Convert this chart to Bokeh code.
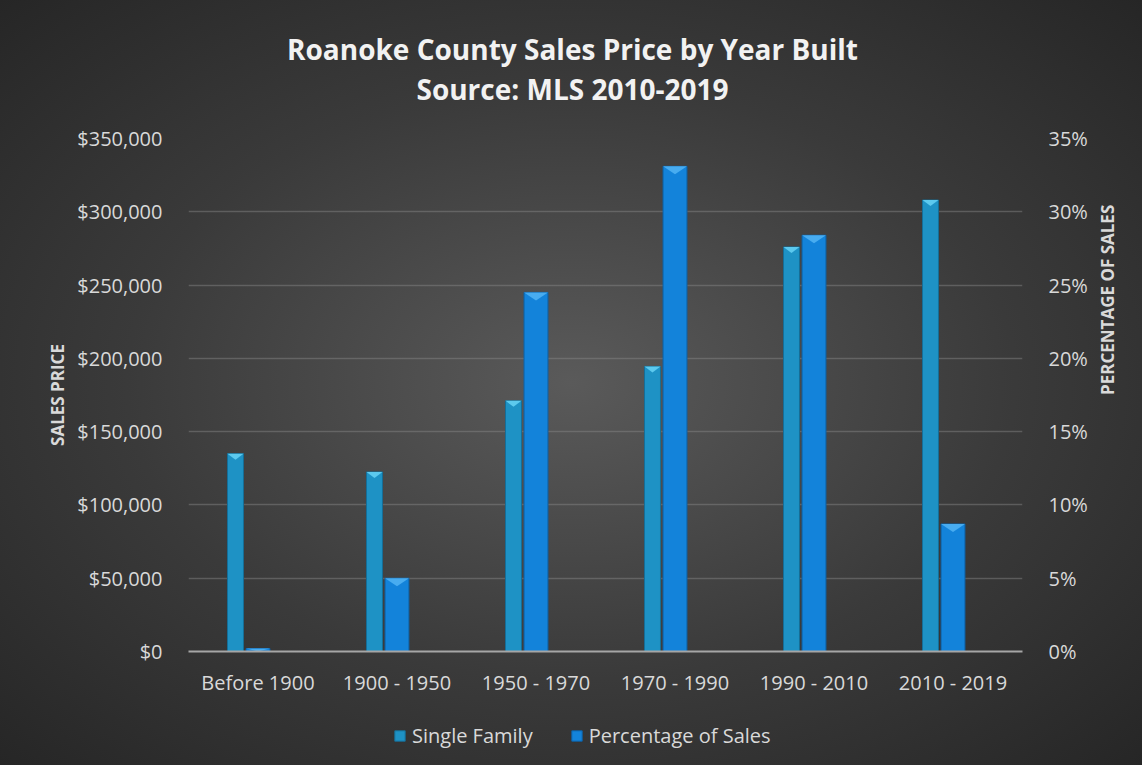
import numpy as np
from bokeh.plotting import figure
from bokeh.layouts import column
from bokeh.models import (Range1d, LinearAxis, FixedTicker, NumeralTickFormatter,
                          PrintfTickFormatter, Legend, LegendItem, ColumnDataSource)
from bokeh.core.properties import value
from bokeh.embed import file_html
from bokeh.resources import INLINE

# ---- data ----
categories = ["Before 1900", "1900 - 1950", "1950 - 1970", "1970 - 1990", "1990 - 2010", "2010 - 2019"]
single_family = [135000, 122500, 171000, 194500, 276000, 308000]
pct_sales = [0.2, 5.0, 24.5, 33.1, 28.4, 8.7]
price_ticks = [0, 50000, 100000, 150000, 200000, 250000, 300000, 350000]
pct_ticks = [0, 5, 10, 15, 20, 25, 30, 35]
title_lines = ["Roanoke County Sales Price by Year Built", "Source: MLS 2010-2019"]
series_names = ["Single Family", "Percentage of Sales"]

FONT = "Open Sans"
TXT = "#d9d9d9"
SF_FILL, SF_LINE, SF_TOP = "#1E92C5", "#166f98", "#5cc9ee"
PC_FILL, PC_LINE, PC_TOP = "#1383DA", "#0d62a8", "#48acf0"

W = 1142
H_T, H_M, H_L = 115, 590, 60
ML, MR, MT, MB = 188, 120, 23, 54
frame_h = H_M - MT - MB

centers = np.arange(len(categories)) + 0.5
sf_x = centers - 0.162
sf_w = 0.115
pc_x = centers
pc_w = 0.172

def bare(fig):
    fig.background_fill_color = None
    fig.border_fill_color = None
    fig.outline_line_color = None
    fig.xgrid.visible = False
    fig.ygrid.visible = False
    return fig

# ---------- title figure (x in canvas pixels; frames are aligned by the column) ----------
pt = bare(figure(width=W, height=H_T, output_backend="svg", toolbar_location=None,
                 x_range=Range1d(ML, W - MR), y_range=Range1d(0, H_T),
                 x_axis_type=None, y_axis_type=None,
                 min_border_left=ML, min_border_right=MR, min_border_top=0, min_border_bottom=0))
pt.text(x=[572, 572], y=[H_T - 48, H_T - 88], text=title_lines,
        text_font=value(FONT), text_font_size="28px", text_font_style="bold",
        text_color="#f2f2f2", text_align="center", text_baseline="middle")

# ---------- main figure ----------
p = figure(width=W, height=H_M, output_backend="svg", toolbar_location=None,
           x_range=Range1d(0, len(categories)), y_range=Range1d(0, 350000),
           min_border_left=ML, min_border_right=MR, min_border_top=MT, min_border_bottom=MB)
p.background_fill_color = None
p.border_fill_color = None
p.outline_line_color = None
p.extra_y_ranges = {"pct": Range1d(0, 35)}

p.xgrid.visible = False
p.ygrid.ticker = FixedTicker(ticks=price_ticks)
p.ygrid.grid_line_color = "#8a8a8a"
p.ygrid.grid_line_alpha = 0.45
p.ygrid.grid_line_width = 1.5

xa = p.xaxis[0]
xa.ticker = FixedTicker(ticks=list(centers))
xa.major_label_overrides = {float(c): cat for c, cat in zip(centers, categories)}
xa.major_tick_line_color = None
xa.minor_tick_line_color = None
xa.axis_line_color = "#a6a6a6"
xa.axis_line_width = 2
xa.major_label_text_font = FONT
xa.major_label_text_font_size = "20px"
xa.major_label_text_color = TXT
xa.major_label_standoff = 11

ya = p.yaxis[0]
ya.ticker = FixedTicker(ticks=price_ticks)
ya.formatter = NumeralTickFormatter(format="$0,0")
ya.axis_line_color = None
ya.major_tick_line_color = None
ya.minor_tick_line_color = None
ya.major_label_text_font = FONT
ya.major_label_text_font_size = "20px"
ya.major_label_text_color = TXT
ya.major_label_standoff = 20
ya.axis_label = "SALES PRICE"
ya.axis_label_text_font = FONT
ya.axis_label_text_font_size = "17px"
ya.axis_label_text_font_style = "bold"
ya.axis_label_text_color = TXT
ya.axis_label_standoff = 5

ra = LinearAxis(y_range_name="pct", ticker=FixedTicker(ticks=pct_ticks),
                formatter=PrintfTickFormatter(format="%d%%"))
ra.axis_line_color = None
ra.major_tick_line_color = None
ra.minor_tick_line_color = None
ra.major_label_text_font = FONT
ra.major_label_text_font_size = "20px"
ra.major_label_text_color = TXT
ra.major_label_standoff = 20
ra.axis_label = "PERCENTAGE OF SALES"
ra.axis_label_orientation = np.pi / 2
ra.axis_label_text_font = FONT
ra.axis_label_text_font_size = "17px"
ra.axis_label_text_font_style = "bold"
ra.axis_label_text_color = TXT
ra.axis_label_standoff = 17
p.add_layout(ra, "right")

src_sf = ColumnDataSource(dict(x=sf_x, top=single_family))
src_pc = ColumnDataSource(dict(x=pc_x, top=pct_sales))
p.vbar(x="x", top="top", bottom=0, width=sf_w, source=src_sf,
       fill_color=SF_FILL, line_color=SF_LINE, line_width=1)
p.vbar(x="x", top="top", bottom=0, width=pc_w, source=src_pc, y_range_name="pct",
       fill_color=PC_FILL, line_color=PC_LINE, line_width=1)

# bevel highlights on bar tops (derived from the data values)
usd_per_px = 350000 / frame_h
pct_per_px = 35 / frame_h
sf_xs, sf_ys, pc_xs, pc_ys = [], [], [], []
for x0, v in zip(sf_x, single_family):
    h = min(6 * usd_per_px, v)
    sf_xs.append([x0 - sf_w / 2, x0 + sf_w / 2, x0])
    sf_ys.append([v, v, v - h])
for x0, v in zip(pc_x, pct_sales):
    h = min(8 * pct_per_px, v)
    pc_xs.append([x0 - pc_w / 2, x0 + pc_w / 2, x0])
    pc_ys.append([v, v, v - h])
p.patches(sf_xs, sf_ys, fill_color=SF_TOP, line_color=None)
p.patches(pc_xs, pc_ys, fill_color=PC_TOP, line_color=None, y_range_name="pct")

# ---------- legend figure ----------
pl = bare(figure(width=W, height=H_L, output_backend="svg", toolbar_location=None,
                 x_range=Range1d(0, 1), y_range=Range1d(0, 1),
                 x_axis_type=None, y_axis_type=None,
                 min_border_left=ML, min_border_right=MR, min_border_top=0, min_border_bottom=0))
# swatch-only renderers (NaN rows, nothing drawn) carry the series styles for the legend
l_sf = pl.vbar(x=[np.nan], top=[np.nan], width=sf_w, fill_color=SF_FILL, line_color=SF_LINE)
l_pc = pl.vbar(x=[np.nan], top=[np.nan], width=pc_w, fill_color=PC_FILL, line_color=PC_LINE)
legend = Legend(items=[LegendItem(label=series_names[0], renderers=[l_sf]),
                       LegendItem(label=series_names[1], renderers=[l_pc])],
                orientation="horizontal", location=(393 - ML, 16),
                background_fill_alpha=0, border_line_alpha=0,
                label_text_font=FONT, label_text_font_size="20px", label_text_color=TXT,
                label_standoff=6, glyph_width=13, glyph_height=13, spacing=37,
                padding=0, margin=0)
pl.add_layout(legend, "center")

layout = column(pt, p, pl, spacing=0,
                styles={"background": "radial-gradient(ellipse at 50% 50%, #5a5a5a 0%, #3a3a3a 55%, #262626 100%)"})

open("out.html", "w").write(file_html(layout, INLINE))
